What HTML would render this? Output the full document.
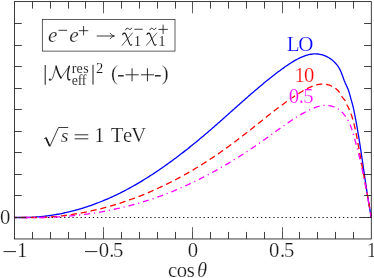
<!DOCTYPE html>
<html><head><meta charset="utf-8"><title>plot</title>
<style>html,body{margin:0;padding:0;background:#fff;overflow:hidden}body{width:374px;height:278px;font-family:"Liberation Serif",serif}</style></head>
<body>
<svg width="374" height="278" viewBox="0 0 374 278" font-family="'Liberation Serif', serif" style="display:block;will-change:transform">
<rect width="374" height="278" fill="#ffffff"/>
<line x1="14.55" y1="217.50" x2="371.30" y2="217.50" stroke="#1a1a1a" stroke-width="1.15" stroke-dasharray="1.3 2.8" stroke-dashoffset="3.7"/>
<path d="M14.55,217.50 L15.82,217.50 L17.09,217.50 L18.35,217.50 L19.62,217.50 L20.89,217.50 L22.16,217.50 L23.42,217.50 L24.69,217.50 L25.96,217.50 L27.23,217.49 L28.49,217.45 L29.76,217.40 L31.03,217.34 L32.30,217.27 L33.56,217.20 L34.83,217.11 L36.10,217.02 L37.37,216.92 L38.63,216.81 L39.90,216.70 L41.17,216.58 L42.44,216.45 L43.70,216.31 L44.97,216.16 L46.24,216.01 L47.51,215.84 L48.77,215.67 L50.04,215.49 L51.31,215.31 L52.58,215.11 L53.84,214.91 L55.11,214.70 L56.38,214.48 L57.65,214.26 L58.91,214.02 L60.18,213.78 L61.45,213.53 L62.72,213.27 L63.98,213.00 L65.25,212.73 L66.52,212.45 L67.79,212.16 L69.05,211.86 L70.32,211.55 L71.59,211.24 L72.86,210.91 L74.12,210.58 L75.39,210.24 L76.66,209.89 L77.93,209.54 L79.19,209.18 L80.46,208.80 L81.73,208.42 L83.00,208.04 L84.26,207.64 L85.53,207.24 L86.80,206.82 L88.07,206.40 L89.33,205.98 L90.60,205.54 L91.87,205.09 L93.14,204.64 L94.40,204.18 L95.67,203.71 L96.94,203.23 L98.21,202.75 L99.47,202.25 L100.74,201.75 L102.01,201.24 L103.28,200.72 L104.54,200.19 L105.81,199.66 L107.08,199.12 L108.35,198.56 L109.62,198.00 L110.88,197.44 L112.15,196.86 L113.42,196.28 L114.69,195.68 L115.95,195.08 L117.22,194.47 L118.49,193.85 L119.76,193.23 L121.02,192.59 L122.29,191.95 L123.56,191.30 L124.83,190.64 L126.09,189.97 L127.36,189.30 L128.63,188.62 L129.90,187.92 L131.16,187.23 L132.43,186.52 L133.70,185.80 L134.97,185.08 L136.23,184.35 L137.50,183.61 L138.77,182.87 L140.04,182.11 L141.30,181.35 L142.57,180.58 L143.84,179.81 L145.11,179.03 L146.37,178.24 L147.64,177.44 L148.91,176.63 L150.18,175.82 L151.44,175.00 L152.71,174.18 L153.98,173.34 L155.25,172.50 L156.51,171.66 L157.78,170.80 L159.05,169.94 L160.32,169.08 L161.58,168.20 L162.85,167.32 L164.12,166.43 L165.39,165.54 L166.65,164.64 L167.92,163.73 L169.19,162.82 L170.46,161.90 L171.72,160.97 L172.99,160.04 L174.26,159.10 L175.53,158.16 L176.79,157.21 L178.06,156.25 L179.33,155.29 L180.60,154.32 L181.86,153.35 L182.50,152.86 L183.13,152.37 L183.77,151.87 L184.40,151.38 L185.03,150.88 L185.67,150.39 L186.30,149.89 L186.93,149.39 L187.57,148.89 L188.20,148.39 L188.84,147.88 L189.47,147.38 L190.10,146.87 L190.74,146.36 L191.37,145.85 L192.00,145.34 L192.64,144.83 L193.27,144.32 L193.91,143.80 L194.54,143.29 L195.17,142.77 L195.81,142.25 L196.44,141.73 L197.08,141.21 L197.71,140.69 L198.34,140.16 L198.98,139.64 L199.61,139.11 L200.24,138.58 L200.88,138.05 L201.51,137.52 L202.15,136.99 L202.78,136.46 L203.41,135.93 L204.05,135.39 L204.68,134.85 L205.31,134.31 L205.95,133.78 L206.58,133.24 L207.22,132.69 L207.85,132.15 L208.48,131.61 L209.12,131.06 L209.75,130.52 L210.38,129.97 L211.02,129.42 L211.65,128.87 L212.29,128.32 L212.92,127.77 L213.55,127.21 L214.19,126.66 L214.82,126.11 L215.45,125.55 L216.09,124.99 L216.72,124.44 L217.36,123.88 L217.99,123.32 L218.62,122.76 L219.26,122.20 L219.89,121.64 L220.52,121.08 L221.16,120.52 L221.79,119.96 L222.43,119.40 L223.06,118.83 L223.69,118.27 L224.33,117.71 L224.96,117.14 L225.59,116.58 L226.23,116.01 L226.86,115.45 L227.50,114.88 L228.13,114.32 L228.76,113.75 L229.40,113.18 L230.03,112.62 L230.66,112.05 L231.30,111.49 L231.93,110.92 L232.57,110.36 L233.20,109.79 L233.83,109.22 L234.47,108.66 L235.10,108.09 L235.73,107.53 L236.37,106.96 L237.00,106.40 L237.64,105.83 L238.27,105.27 L238.90,104.71 L239.54,104.14 L240.17,103.58 L240.81,103.02 L241.44,102.45 L242.07,101.89 L242.71,101.33 L243.34,100.77 L243.97,100.21 L244.61,99.65 L245.24,99.10 L245.88,98.54 L246.51,97.98 L247.14,97.43 L247.78,96.87 L248.41,96.32 L249.04,95.76 L249.68,95.21 L250.31,94.66 L250.95,94.11 L251.58,93.56 L252.21,93.01 L252.85,92.46 L253.48,91.92 L254.11,91.37 L254.75,90.83 L255.38,90.29 L256.02,89.74 L256.65,89.20 L257.28,88.67 L257.92,88.13 L258.55,87.59 L259.18,87.06 L259.82,86.53 L260.45,85.99 L261.09,85.46 L261.72,84.94 L262.35,84.41 L262.99,83.88 L263.62,83.36 L264.25,82.84 L264.89,82.32 L265.52,81.80 L266.16,81.28 L266.79,80.77 L267.42,80.26 L268.06,79.74 L268.69,79.24 L269.32,78.73 L269.96,78.22 L270.59,77.72 L271.23,77.22 L271.86,76.72 L272.49,76.22 L273.13,75.73 L273.76,75.24 L274.39,74.75 L275.66,73.77 L276.93,72.81 L278.20,71.85 L279.46,70.91 L280.73,69.97 L282.00,69.05 L283.27,68.13 L284.53,67.23 L285.80,66.34 L287.07,65.46 L288.34,64.61 L289.61,63.76 L290.87,62.94 L292.14,62.15 L293.41,61.37 L294.68,60.63 L295.94,59.91 L297.21,59.22 L298.48,58.57 L299.75,57.94 L301.01,57.36 L302.28,56.81 L303.55,56.31 L304.82,55.85 L306.08,55.43 L307.35,55.06 L308.62,54.73 L309.89,54.46 L311.15,54.24 L312.42,54.07 L313.69,53.96 L314.96,53.91 L316.22,53.92 L317.49,53.99 L318.76,54.13 L320.03,54.33 L321.29,54.60 L322.56,54.94 L323.83,55.36 L325.10,55.84 L326.36,56.41 L327.63,57.05 L328.90,57.77 L330.17,58.58 L331.50,59.54 L332.16,60.07 L332.80,60.60 L333.41,61.13 L334.54,62.19 L335.57,63.25 L336.50,64.31 L337.34,65.37 L338.10,66.43 L338.79,67.49 L339.41,68.55 L339.97,69.61 L340.47,70.67 L340.93,71.74 L341.36,72.80 L341.78,73.86 L342.18,74.92 L342.57,75.98 L342.95,77.04 L343.33,78.10 L343.72,79.16 L344.11,80.22 L344.53,81.28 L344.97,82.34 L345.44,83.40 L345.93,84.46 L346.43,85.52 L346.92,86.58 L347.40,87.64 L347.85,88.70 L348.26,89.76 L348.64,90.82 L348.99,91.88 L349.32,92.94 L349.62,94.00 L349.91,95.06 L350.20,96.12 L350.47,97.18 L350.75,98.24 L351.04,99.30 L351.34,100.36 L351.64,101.42 L351.95,102.48 L352.26,103.54 L352.55,104.60 L352.83,105.66 L353.09,106.72 L353.34,107.78 L353.57,108.84 L353.80,109.90 L354.01,110.96 L354.23,112.02 L354.44,113.08 L354.65,114.14 L354.86,115.20 L355.07,116.26 L355.27,117.32 L355.47,118.38 L355.67,119.44 L355.87,120.50 L356.07,121.56 L356.26,122.62 L356.45,123.68 L356.65,124.74 L356.83,125.80 L357.02,126.86 L357.21,127.92 L357.39,128.98 L357.58,130.04 L357.76,131.10 L357.94,132.16 L358.11,133.22 L358.29,134.28 L358.47,135.34 L358.64,136.40 L358.81,137.46 L358.99,138.52 L359.16,139.58 L359.33,140.64 L359.49,141.70 L359.66,142.76 L359.83,143.82 L359.99,144.88 L360.16,145.94 L360.32,147.00 L360.48,148.06 L360.64,149.12 L360.81,150.18 L360.97,151.24 L361.12,152.30 L361.28,153.36 L361.44,154.42 L361.60,155.48 L361.76,156.54 L361.91,157.60 L362.07,158.66 L362.23,159.72 L362.38,160.78 L362.54,161.84 L362.69,162.90 L362.85,163.96 L363.00,165.02 L363.16,166.08 L363.31,167.14 L363.46,168.20 L363.62,169.27 L363.77,170.33 L363.93,171.39 L364.08,172.45 L364.23,173.51 L364.39,174.57 L364.54,175.63 L364.70,176.69 L364.86,177.75 L365.01,178.81 L365.17,179.87 L365.32,180.93 L365.48,181.99 L365.64,183.05 L365.80,184.11 L365.96,185.17 L366.11,186.23 L366.27,187.29 L366.44,188.35 L366.60,189.41 L366.76,190.47 L366.92,191.53 L367.09,192.59 L367.25,193.65 L367.42,194.71 L367.58,195.77 L367.75,196.83 L367.92,197.89 L368.09,198.95 L368.26,200.01 L368.44,201.07 L368.61,202.13 L368.79,203.19 L368.96,204.25 L369.14,205.31 L369.32,206.37 L369.50,207.43 L369.68,208.49 L369.87,209.55 L370.05,210.61 L370.24,211.67 L370.43,212.73 L370.62,213.79 L370.81,214.85 L371.01,215.91 L371.20,216.97 L371.30,217.50" fill="none" stroke="#0000ff" stroke-width="1.3"/>
<path d="M14.55,217.50 L15.84,217.50 L17.13,217.50 L18.42,217.50 L19.71,217.50 L21.00,217.50 L22.30,217.50 L23.59,217.50 L24.88,217.50 L26.17,217.50 L27.46,217.50 L28.75,217.50 L30.04,217.50 L31.33,217.50 L32.62,217.50 L33.91,217.50 L35.21,217.50 L36.50,217.50 L37.79,217.50 L39.08,217.50 L40.37,217.50 L41.66,217.48 L42.95,217.41 L44.24,217.34 L45.53,217.27 L46.82,217.19 L48.12,217.10 L49.41,217.01 L50.70,216.91 L51.99,216.81 L53.28,216.70 L54.57,216.59 L55.86,216.47 L57.15,216.34 L58.44,216.21 L59.73,216.07 L61.03,215.93 L62.32,215.78 L63.61,215.62 L64.90,215.46 L66.19,215.30 L67.48,215.12 L68.77,214.94 L70.06,214.76 L71.35,214.57 L72.64,214.38 L73.94,214.17 L75.23,213.97 L76.52,213.75 L77.81,213.54 L79.10,213.31 L80.39,213.08 L81.68,212.84 L82.97,212.60 L84.26,212.35 L85.55,212.10 L86.84,211.84 L88.14,211.57 L89.43,211.30 L90.72,211.03 L92.01,210.74 L93.30,210.45 L94.59,210.16 L95.88,209.86 L97.17,209.55 L98.46,209.24 L99.75,208.92 L101.05,208.59 L102.34,208.26 L103.63,207.93 L104.92,207.59 L106.21,207.24 L107.50,206.88 L108.79,206.52 L110.08,206.16 L111.37,205.78 L112.66,205.41 L113.96,205.02 L115.25,204.63 L116.54,204.24 L117.83,203.83 L119.12,203.43 L120.41,203.01 L121.70,202.59 L122.99,202.17 L124.28,201.73 L125.57,201.30 L126.87,200.85 L128.16,200.40 L129.45,199.94 L130.74,199.48 L132.03,199.01 L133.32,198.54 L134.61,198.06 L135.90,197.57 L137.19,197.08 L138.48,196.58 L139.78,196.08 L141.07,195.57 L142.36,195.05 L143.65,194.53 L144.94,194.00 L146.23,193.46 L147.52,192.92 L148.81,192.37 L150.10,191.82 L151.39,191.26 L152.69,190.70 L153.98,190.12 L155.27,189.55 L156.56,188.96 L157.85,188.37 L159.14,187.77 L160.43,187.17 L161.72,186.56 L163.01,185.95 L164.30,185.33 L165.59,184.70 L166.89,184.07 L168.18,183.43 L169.47,182.78 L170.76,182.13 L172.05,181.47 L173.34,180.81 L174.63,180.14 L175.92,179.46 L177.21,178.77 L178.50,178.09 L179.80,177.39 L181.09,176.69 L182.38,175.98 L183.67,175.27 L184.96,174.54 L186.25,173.82 L187.54,173.08 L188.83,172.34 L190.12,171.60 L191.41,170.85 L192.71,170.09 L194.00,169.32 L195.29,168.55 L196.58,167.78 L197.87,166.99 L199.16,166.20 L200.45,165.41 L201.74,164.60 L203.03,163.79 L204.32,162.98 L205.62,162.16 L206.91,161.33 L208.20,160.50 L209.49,159.66 L210.78,158.81 L212.07,157.95 L213.36,157.09 L214.65,156.23 L215.94,155.36 L217.23,154.48 L218.53,153.59 L219.82,152.70 L221.11,151.80 L222.40,150.90 L223.69,149.99 L224.98,149.07 L226.27,148.15 L227.56,147.22 L228.85,146.28 L230.14,145.34 L230.79,144.86 L231.43,144.39 L232.08,143.91 L232.73,143.43 L233.37,142.95 L234.02,142.47 L234.66,141.98 L235.31,141.50 L235.95,141.01 L236.60,140.52 L237.24,140.03 L237.89,139.54 L238.54,139.05 L239.18,138.55 L239.83,138.06 L240.47,137.56 L241.12,137.06 L241.76,136.56 L242.41,136.06 L243.05,135.55 L243.70,135.05 L244.34,134.55 L244.99,134.04 L245.64,133.53 L246.28,133.02 L246.93,132.51 L247.57,132.01 L248.22,131.49 L248.86,130.98 L249.51,130.47 L250.15,129.96 L250.80,129.44 L251.45,128.93 L252.09,128.42 L252.74,127.90 L253.38,127.39 L254.03,126.87 L254.67,126.36 L255.32,125.84 L255.96,125.32 L256.61,124.81 L257.25,124.29 L257.90,123.78 L258.55,123.26 L259.19,122.74 L259.84,122.23 L260.48,121.71 L261.13,121.20 L261.77,120.68 L262.42,120.17 L263.06,119.65 L263.71,119.14 L264.36,118.63 L265.00,118.11 L265.65,117.60 L266.29,117.09 L266.94,116.58 L267.58,116.07 L268.23,115.56 L268.87,115.06 L269.52,114.55 L270.16,114.04 L270.81,113.54 L271.46,113.03 L272.10,112.53 L272.75,112.03 L273.39,111.53 L274.04,111.03 L274.68,110.53 L275.33,110.04 L275.97,109.54 L276.62,109.05 L277.26,108.56 L277.91,108.07 L278.56,107.58 L279.20,107.10 L279.85,106.61 L280.49,106.13 L281.14,105.65 L281.78,105.17 L282.43,104.69 L283.07,104.22 L284.37,103.28 L285.66,102.34 L286.95,101.42 L288.24,100.51 L289.53,99.60 L290.82,98.71 L292.11,97.83 L293.40,96.95 L294.69,96.10 L295.98,95.25 L297.28,94.41 L298.57,93.59 L299.86,92.79 L301.15,91.99 L302.44,91.22 L303.73,90.46 L305.02,89.73 L306.31,89.03 L307.60,88.36 L308.89,87.72 L310.18,87.13 L311.48,86.57 L312.77,86.06 L314.06,85.60 L315.35,85.19 L316.64,84.84 L317.93,84.55 L319.22,84.33 L320.51,84.17 L321.80,84.08 L323.09,84.06 L324.39,84.13 L325.68,84.27 L326.97,84.50 L328.26,84.82 L329.55,85.23 L330.84,85.74 L332.13,86.34 L333.42,87.05 L334.71,87.87 L336.00,88.79 L336.65,89.30 L337.60,90.16 L338.38,91.01 L339.04,91.87 L339.63,92.73 L340.17,93.59 L340.69,94.44 L341.19,95.30 L341.72,96.16 L342.28,97.02 L342.91,97.87 L343.60,98.73 L344.31,99.59 L344.95,100.45 L345.47,101.30 L345.89,102.16 L346.26,103.02 L346.60,103.88 L346.95,104.73 L347.36,105.59 L347.82,106.45 L348.28,107.31 L348.70,108.16 L349.10,109.02 L349.48,109.88 L349.84,110.74 L350.18,111.59 L350.51,112.45 L350.83,113.31 L351.14,114.17 L351.43,115.02 L351.72,115.88 L352.00,116.74 L352.27,117.60 L352.53,118.45 L352.78,119.31 L353.02,120.17 L353.26,121.03 L353.49,121.88 L353.71,122.74 L353.93,123.60 L354.15,124.46 L354.36,125.31 L354.56,126.17 L354.76,127.03 L354.96,127.89 L355.15,128.74 L355.33,129.60 L355.52,130.46 L355.70,131.32 L355.87,132.18 L356.05,133.03 L356.22,133.89 L356.39,134.75 L356.55,135.61 L356.71,136.46 L356.88,137.32 L357.04,138.18 L357.19,139.04 L357.35,139.89 L357.51,140.75 L357.66,141.61 L357.82,142.47 L357.97,143.32 L358.12,144.18 L358.28,145.04 L358.43,145.90 L358.59,146.75 L358.74,147.61 L358.90,148.47 L359.05,149.33 L359.21,150.18 L359.36,151.04 L359.52,151.90 L359.67,152.76 L359.83,153.61 L359.98,154.47 L360.14,155.33 L360.30,156.19 L360.45,157.04 L360.61,157.90 L360.77,158.76 L360.92,159.62 L361.08,160.47 L361.23,161.33 L361.39,162.19 L361.55,163.05 L361.70,163.90 L361.86,164.76 L362.02,165.62 L362.18,166.48 L362.33,167.33 L362.49,168.19 L362.65,169.05 L362.80,169.91 L362.96,170.76 L363.12,171.62 L363.27,172.48 L363.43,173.34 L363.59,174.19 L363.74,175.05 L363.90,175.91 L364.06,176.77 L364.21,177.62 L364.37,178.48 L364.53,179.34 L364.68,180.20 L364.84,181.05 L364.99,181.91 L365.15,182.77 L365.31,183.63 L365.46,184.48 L365.62,185.34 L365.77,186.20 L365.93,187.06 L366.08,187.91 L366.24,188.77 L366.39,189.63 L366.55,190.49 L366.70,191.35 L366.86,192.20 L367.01,193.06 L367.17,193.92 L367.32,194.78 L367.47,195.63 L367.63,196.49 L367.78,197.35 L367.93,198.21 L368.09,199.06 L368.24,199.92 L368.39,200.78 L368.54,201.64 L368.69,202.49 L368.85,203.35 L369.00,204.21 L369.15,205.07 L369.30,205.92 L369.45,206.78 L369.60,207.64 L369.75,208.50 L369.90,209.35 L370.05,210.21 L370.20,211.07 L370.34,211.93 L370.49,212.78 L370.64,213.64 L370.79,214.50 L370.93,215.36 L371.08,216.21 L371.23,217.07 L371.30,217.50" fill="none" stroke="#ff0000" stroke-width="1.3" stroke-dasharray="6.2 3.84" stroke-dashoffset="3.86"/>
<path d="M14.55,217.50 L15.85,217.50 L17.15,217.50 L18.44,217.50 L19.74,217.50 L21.04,217.50 L22.34,217.50 L23.63,217.50 L24.93,217.50 L26.23,217.50 L27.53,217.50 L28.82,217.50 L30.12,217.50 L31.42,217.50 L32.72,217.50 L34.01,217.50 L35.31,217.50 L36.61,217.50 L37.91,217.50 L39.20,217.50 L40.50,217.50 L41.80,217.50 L43.10,217.50 L44.39,217.50 L45.69,217.50 L46.99,217.45 L48.29,217.40 L49.59,217.35 L50.88,217.29 L52.18,217.23 L53.48,217.17 L54.78,217.10 L56.07,217.02 L57.37,216.95 L58.67,216.87 L59.97,216.78 L61.26,216.69 L62.56,216.60 L63.86,216.50 L65.16,216.40 L66.45,216.30 L67.75,216.19 L69.05,216.07 L70.35,215.95 L71.64,215.83 L72.94,215.70 L74.24,215.57 L75.54,215.44 L76.83,215.30 L78.13,215.15 L79.43,215.01 L80.73,214.85 L82.02,214.70 L83.32,214.53 L84.62,214.37 L85.92,214.20 L87.22,214.02 L88.51,213.84 L89.81,213.66 L91.11,213.47 L92.41,213.28 L93.70,213.08 L95.00,212.87 L96.30,212.67 L97.60,212.45 L98.89,212.24 L100.19,212.02 L101.49,211.79 L102.79,211.56 L104.08,211.32 L105.38,211.08 L106.68,210.83 L107.98,210.58 L109.27,210.33 L110.57,210.07 L111.87,209.80 L113.17,209.53 L114.46,209.25 L115.76,208.97 L117.06,208.69 L118.36,208.40 L119.66,208.10 L120.95,207.80 L122.25,207.49 L123.55,207.18 L124.85,206.87 L126.14,206.54 L127.44,206.22 L128.74,205.88 L130.04,205.55 L131.33,205.20 L132.63,204.85 L133.93,204.50 L135.23,204.14 L136.52,203.78 L137.82,203.41 L139.12,203.03 L140.42,202.65 L141.71,202.26 L143.01,201.87 L144.31,201.47 L145.61,201.07 L146.90,200.66 L148.20,200.25 L149.50,199.83 L150.80,199.40 L152.10,198.97 L153.39,198.53 L154.69,198.09 L155.99,197.64 L157.29,197.19 L158.58,196.73 L159.88,196.26 L161.18,195.79 L162.48,195.31 L163.77,194.83 L165.07,194.34 L166.37,193.84 L167.67,193.34 L168.96,192.84 L170.26,192.32 L171.56,191.80 L172.86,191.28 L174.15,190.75 L175.45,190.21 L176.75,189.66 L178.05,189.11 L179.34,188.56 L180.64,188.00 L181.94,187.43 L183.24,186.85 L184.53,186.27 L185.83,185.69 L187.13,185.10 L188.43,184.50 L189.73,183.89 L191.02,183.28 L192.32,182.67 L193.62,182.05 L194.92,181.42 L196.21,180.78 L197.51,180.14 L198.81,179.50 L200.11,178.85 L201.40,178.19 L202.70,177.53 L204.00,176.86 L205.30,176.18 L206.59,175.50 L207.89,174.82 L209.19,174.13 L210.49,173.43 L211.78,172.73 L213.08,172.02 L214.38,171.30 L215.68,170.58 L216.97,169.86 L218.27,169.13 L219.57,168.39 L220.87,167.65 L222.17,166.90 L223.46,166.15 L224.76,165.39 L226.06,164.62 L227.36,163.85 L228.65,163.08 L229.95,162.30 L231.25,161.51 L232.55,160.72 L233.84,159.92 L235.14,159.12 L236.44,158.31 L237.74,157.50 L239.03,156.68 L240.33,155.86 L241.63,155.03 L242.93,154.19 L244.22,153.35 L245.52,152.51 L246.82,151.66 L248.12,150.80 L249.41,149.94 L250.71,149.08 L252.01,148.20 L253.31,147.33 L254.61,146.45 L255.90,145.56 L257.20,144.67 L258.50,143.77 L259.80,142.87 L261.09,141.96 L262.39,141.05 L263.69,140.13 L264.99,139.21 L266.28,138.29 L267.58,137.35 L268.88,136.42 L270.18,135.49 L270.83,135.02 L271.47,134.55 L272.12,134.08 L272.77,133.61 L273.42,133.14 L274.07,132.67 L274.72,132.20 L275.37,131.73 L276.02,131.26 L277.31,130.33 L278.61,129.40 L279.91,128.47 L281.21,127.54 L282.50,126.62 L283.80,125.71 L285.10,124.80 L286.40,123.90 L287.69,123.00 L288.99,122.12 L290.29,121.24 L291.59,120.38 L292.88,119.52 L294.18,118.68 L295.48,117.85 L296.78,117.03 L298.07,116.23 L299.37,115.44 L300.67,114.67 L301.97,113.91 L303.26,113.17 L304.56,112.45 L305.86,111.75 L307.16,111.07 L308.46,110.40 L309.75,109.77 L311.05,109.16 L312.35,108.59 L313.65,108.06 L314.94,107.56 L316.24,107.10 L317.54,106.69 L318.84,106.33 L320.13,106.02 L321.43,105.77 L322.73,105.58 L324.03,105.45 L325.32,105.38 L326.62,105.38 L327.92,105.46 L329.22,105.61 L330.51,105.83 L331.81,106.14 L333.11,106.54 L334.41,107.02 L335.70,107.59 L337.00,108.26 L338.30,109.03 L339.31,109.76 L340.23,110.48 L341.06,111.21 L341.81,111.93 L342.50,112.66 L343.15,113.38 L343.76,114.11 L344.34,114.84 L344.89,115.56 L345.43,116.29 L345.93,117.01 L346.42,117.74 L346.89,118.46 L347.34,119.19 L347.76,119.91 L348.17,120.64 L348.57,121.37 L348.94,122.09 L349.30,122.82 L349.79,123.90 L350.25,124.99 L350.67,126.08 L351.07,127.17 L351.46,128.26 L351.82,129.35 L352.17,130.43 L352.51,131.52 L352.84,132.61 L353.16,133.70 L353.48,134.79 L353.80,135.88 L354.11,136.96 L354.42,138.05 L354.73,139.14 L355.03,140.23 L355.33,141.32 L355.63,142.41 L355.93,143.49 L356.22,144.58 L356.51,145.67 L356.79,146.76 L357.08,147.85 L357.36,148.94 L357.64,150.02 L357.91,151.11 L358.18,152.20 L358.45,153.29 L358.72,154.38 L358.99,155.47 L359.25,156.55 L359.51,157.64 L359.77,158.73 L360.02,159.82 L360.27,160.91 L360.52,162.00 L360.77,163.08 L361.02,164.17 L361.26,165.26 L361.50,166.35 L361.74,167.44 L361.98,168.53 L362.22,169.61 L362.45,170.70 L362.68,171.79 L362.91,172.88 L363.14,173.97 L363.37,175.06 L363.59,176.14 L363.82,177.23 L364.04,178.32 L364.26,179.41 L364.48,180.50 L364.69,181.59 L364.91,182.67 L365.12,183.76 L365.34,184.85 L365.55,185.94 L365.76,187.03 L365.97,188.12 L366.17,189.20 L366.38,190.29 L366.59,191.38 L366.79,192.47 L366.99,193.56 L367.20,194.65 L367.40,195.73 L367.60,196.82 L367.80,197.91 L368.00,199.00 L368.20,200.09 L368.39,201.18 L368.59,202.26 L368.79,203.35 L368.98,204.44 L369.18,205.53 L369.37,206.62 L369.57,207.71 L369.76,208.79 L369.95,209.88 L370.15,210.97 L370.34,212.06 L370.53,213.15 L370.72,214.24 L370.92,215.32 L371.11,216.41 L371.30,217.50" fill="none" stroke="#ff00ff" stroke-width="1.3" stroke-dasharray="6.2 3.83 1.2 3.835" stroke-dashoffset="5.7"/>
<rect x="14.55" y="1.60" width="356.75" height="237.35" fill="none" stroke="#1a1a1a" stroke-width="0.85"/>
<line x1="32.50" y1="238.95" x2="32.50" y2="231.95" stroke="#2a2a2a" stroke-width="0.9"/>
<line x1="32.50" y1="1.60" x2="32.50" y2="8.60" stroke="#2a2a2a" stroke-width="0.9"/>
<line x1="50.50" y1="238.95" x2="50.50" y2="231.95" stroke="#2a2a2a" stroke-width="0.9"/>
<line x1="50.50" y1="1.60" x2="50.50" y2="8.60" stroke="#2a2a2a" stroke-width="0.9"/>
<line x1="68.50" y1="238.95" x2="68.50" y2="231.95" stroke="#2a2a2a" stroke-width="0.9"/>
<line x1="68.50" y1="1.60" x2="68.50" y2="8.60" stroke="#2a2a2a" stroke-width="0.9"/>
<line x1="85.50" y1="238.95" x2="85.50" y2="231.95" stroke="#2a2a2a" stroke-width="0.9"/>
<line x1="85.50" y1="1.60" x2="85.50" y2="8.60" stroke="#2a2a2a" stroke-width="0.9"/>
<line x1="103.50" y1="238.95" x2="103.50" y2="231.95" stroke="#2a2a2a" stroke-width="0.9"/>
<line x1="103.50" y1="1.60" x2="103.50" y2="8.60" stroke="#2a2a2a" stroke-width="0.9"/>
<line x1="103.50" y1="238.95" x2="103.50" y2="227.15" stroke="#555" stroke-width="0.9"/>
<line x1="103.50" y1="1.60" x2="103.50" y2="13.40" stroke="#555" stroke-width="0.9"/>
<line x1="121.50" y1="238.95" x2="121.50" y2="231.95" stroke="#2a2a2a" stroke-width="0.9"/>
<line x1="121.50" y1="1.60" x2="121.50" y2="8.60" stroke="#2a2a2a" stroke-width="0.9"/>
<line x1="139.50" y1="238.95" x2="139.50" y2="231.95" stroke="#2a2a2a" stroke-width="0.9"/>
<line x1="139.50" y1="1.60" x2="139.50" y2="8.60" stroke="#2a2a2a" stroke-width="0.9"/>
<line x1="157.50" y1="238.95" x2="157.50" y2="231.95" stroke="#2a2a2a" stroke-width="0.9"/>
<line x1="157.50" y1="1.60" x2="157.50" y2="8.60" stroke="#2a2a2a" stroke-width="0.9"/>
<line x1="175.50" y1="238.95" x2="175.50" y2="231.95" stroke="#2a2a2a" stroke-width="0.9"/>
<line x1="175.50" y1="1.60" x2="175.50" y2="8.60" stroke="#2a2a2a" stroke-width="0.9"/>
<line x1="192.50" y1="238.95" x2="192.50" y2="231.95" stroke="#2a2a2a" stroke-width="0.9"/>
<line x1="192.50" y1="1.60" x2="192.50" y2="8.60" stroke="#2a2a2a" stroke-width="0.9"/>
<line x1="192.50" y1="238.95" x2="192.50" y2="227.15" stroke="#555" stroke-width="0.9"/>
<line x1="192.50" y1="1.60" x2="192.50" y2="13.40" stroke="#555" stroke-width="0.9"/>
<line x1="210.50" y1="238.95" x2="210.50" y2="231.95" stroke="#2a2a2a" stroke-width="0.9"/>
<line x1="210.50" y1="1.60" x2="210.50" y2="8.60" stroke="#2a2a2a" stroke-width="0.9"/>
<line x1="228.50" y1="238.95" x2="228.50" y2="231.95" stroke="#2a2a2a" stroke-width="0.9"/>
<line x1="228.50" y1="1.60" x2="228.50" y2="8.60" stroke="#2a2a2a" stroke-width="0.9"/>
<line x1="246.50" y1="238.95" x2="246.50" y2="231.95" stroke="#2a2a2a" stroke-width="0.9"/>
<line x1="246.50" y1="1.60" x2="246.50" y2="8.60" stroke="#2a2a2a" stroke-width="0.9"/>
<line x1="264.50" y1="238.95" x2="264.50" y2="231.95" stroke="#2a2a2a" stroke-width="0.9"/>
<line x1="264.50" y1="1.60" x2="264.50" y2="8.60" stroke="#2a2a2a" stroke-width="0.9"/>
<line x1="282.50" y1="238.95" x2="282.50" y2="231.95" stroke="#2a2a2a" stroke-width="0.9"/>
<line x1="282.50" y1="1.60" x2="282.50" y2="8.60" stroke="#2a2a2a" stroke-width="0.9"/>
<line x1="282.50" y1="238.95" x2="282.50" y2="227.15" stroke="#555" stroke-width="0.9"/>
<line x1="282.50" y1="1.60" x2="282.50" y2="13.40" stroke="#555" stroke-width="0.9"/>
<line x1="299.50" y1="238.95" x2="299.50" y2="231.95" stroke="#2a2a2a" stroke-width="0.9"/>
<line x1="299.50" y1="1.60" x2="299.50" y2="8.60" stroke="#2a2a2a" stroke-width="0.9"/>
<line x1="317.50" y1="238.95" x2="317.50" y2="231.95" stroke="#2a2a2a" stroke-width="0.9"/>
<line x1="317.50" y1="1.60" x2="317.50" y2="8.60" stroke="#2a2a2a" stroke-width="0.9"/>
<line x1="335.50" y1="238.95" x2="335.50" y2="231.95" stroke="#2a2a2a" stroke-width="0.9"/>
<line x1="335.50" y1="1.60" x2="335.50" y2="8.60" stroke="#2a2a2a" stroke-width="0.9"/>
<line x1="353.50" y1="238.95" x2="353.50" y2="231.95" stroke="#2a2a2a" stroke-width="0.9"/>
<line x1="353.50" y1="1.60" x2="353.50" y2="8.60" stroke="#2a2a2a" stroke-width="0.9"/>
<line x1="14.55" y1="195.50" x2="21.75" y2="195.50" stroke="#2a2a2a" stroke-width="0.9"/>
<line x1="371.30" y1="195.50" x2="364.10" y2="195.50" stroke="#2a2a2a" stroke-width="0.9"/>
<line x1="14.55" y1="174.50" x2="21.75" y2="174.50" stroke="#2a2a2a" stroke-width="0.9"/>
<line x1="371.30" y1="174.50" x2="364.10" y2="174.50" stroke="#2a2a2a" stroke-width="0.9"/>
<line x1="14.55" y1="152.50" x2="21.75" y2="152.50" stroke="#2a2a2a" stroke-width="0.9"/>
<line x1="371.30" y1="152.50" x2="364.10" y2="152.50" stroke="#2a2a2a" stroke-width="0.9"/>
<line x1="14.55" y1="131.50" x2="21.75" y2="131.50" stroke="#2a2a2a" stroke-width="0.9"/>
<line x1="371.30" y1="131.50" x2="364.10" y2="131.50" stroke="#2a2a2a" stroke-width="0.9"/>
<line x1="14.55" y1="109.50" x2="21.75" y2="109.50" stroke="#2a2a2a" stroke-width="0.9"/>
<line x1="371.30" y1="109.50" x2="364.10" y2="109.50" stroke="#2a2a2a" stroke-width="0.9"/>
<line x1="14.55" y1="88.50" x2="21.75" y2="88.50" stroke="#2a2a2a" stroke-width="0.9"/>
<line x1="371.30" y1="88.50" x2="364.10" y2="88.50" stroke="#2a2a2a" stroke-width="0.9"/>
<line x1="14.55" y1="66.50" x2="21.75" y2="66.50" stroke="#2a2a2a" stroke-width="0.9"/>
<line x1="371.30" y1="66.50" x2="364.10" y2="66.50" stroke="#2a2a2a" stroke-width="0.9"/>
<line x1="14.55" y1="45.50" x2="21.75" y2="45.50" stroke="#2a2a2a" stroke-width="0.9"/>
<line x1="371.30" y1="45.50" x2="364.10" y2="45.50" stroke="#2a2a2a" stroke-width="0.9"/>
<line x1="14.55" y1="23.50" x2="21.75" y2="23.50" stroke="#2a2a2a" stroke-width="0.9"/>
<line x1="371.30" y1="23.50" x2="364.10" y2="23.50" stroke="#2a2a2a" stroke-width="0.9"/>
<line x1="14.55" y1="217.50" x2="26.35" y2="217.50" stroke="#2a2a2a" stroke-width="0.9"/>
<line x1="371.30" y1="217.50" x2="359.50" y2="217.50" stroke="#2a2a2a" stroke-width="0.9"/>
<text x="0.11" y="224.10" font-size="20.7" fill="#1a1a1a" stroke="#fff" stroke-width="0.22">0</text>
<line x1="3.50" y1="251.60" x2="16.00" y2="251.60" stroke="#1a1a1a" stroke-width="0.95"/>
<text x="17.08" y="257.40" font-size="20.7" fill="#1a1a1a" stroke="#fff" stroke-width="0.22">1</text>
<line x1="85.00" y1="251.60" x2="97.40" y2="251.60" stroke="#1a1a1a" stroke-width="0.95"/>
<text x="98.71" y="257.40" font-size="20.7" fill="#1a1a1a" stroke="#fff" stroke-width="0.22">0</text>
<text x="109.24" y="257.40" font-size="20.7" fill="#1a1a1a" stroke="#fff" stroke-width="0.22">.</text>
<text x="113.10" y="257.40" font-size="20.7" fill="#1a1a1a" stroke="#fff" stroke-width="0.22">5</text>
<text x="187.71" y="257.40" font-size="20.7" fill="#1a1a1a" stroke="#fff" stroke-width="0.22">0</text>
<text x="269.11" y="257.40" font-size="20.7" fill="#1a1a1a" stroke="#fff" stroke-width="0.22">0</text>
<text x="280.04" y="257.40" font-size="20.7" fill="#1a1a1a" stroke="#fff" stroke-width="0.22">.</text>
<text x="284.10" y="257.40" font-size="20.7" fill="#1a1a1a" stroke="#fff" stroke-width="0.22">5</text>
<text x="366.58" y="257.40" font-size="20.7" fill="#1a1a1a" stroke="#fff" stroke-width="0.22">1</text>
<text x="168.01" y="277.00" font-size="20.7" fill="#1a1a1a" stroke="#fff" stroke-width="0.22">c</text>
<text x="176.81" y="277.00" font-size="20.7" fill="#1a1a1a" stroke="#fff" stroke-width="0.22">o</text>
<text x="186.75" y="277.00" font-size="20.7" fill="#1a1a1a" stroke="#fff" stroke-width="0.22">s</text>
<text x="197.09" y="277.00" font-size="20.7" font-style="italic" fill="#1a1a1a" stroke="#fff" stroke-width="0.22">θ</text>
<text x="286.80" y="51.00" font-size="21.0" fill="#0000ff" stroke="#fff" stroke-width="0.22">L</text>
<text x="298.24" y="51.00" font-size="21.0" fill="#0000ff" stroke="#fff" stroke-width="0.22">O</text>
<text x="294.48" y="82.10" font-size="20.7" fill="#ff0000" stroke="#fff" stroke-width="0.22">1</text>
<text x="303.91" y="82.10" font-size="20.7" fill="#ff0000" stroke="#fff" stroke-width="0.22">0</text>
<text x="288.81" y="103.20" font-size="20.7" fill="#ff00ff" stroke="#fff" stroke-width="0.22">0</text>
<text x="298.64" y="103.20" font-size="20.7" fill="#ff00ff" stroke="#fff" stroke-width="0.22">.</text>
<text x="303.30" y="103.20" font-size="20.7" fill="#ff00ff" stroke="#fff" stroke-width="0.22">5</text>
<rect x="42.3" y="19.6" width="132.70" height="31.50" fill="none" stroke="#1a1a1a" stroke-width="0.7"/>
<text x="47.94" y="41.80" font-size="21.3" font-style="italic" fill="#1a1a1a" stroke="#fff" stroke-width="0.22">e</text>
<line x1="58.40" y1="30.30" x2="67.10" y2="30.30" stroke="#1a1a1a" stroke-width="0.85"/>
<text x="69.14" y="41.80" font-size="21.3" font-style="italic" fill="#1a1a1a" stroke="#fff" stroke-width="0.22">e</text>
<line x1="78.90" y1="30.70" x2="88.30" y2="30.70" stroke="#1a1a1a" stroke-width="0.85"/>
<line x1="83.60" y1="26.00" x2="83.60" y2="35.40" stroke="#1a1a1a" stroke-width="0.85"/>
<line x1="96.70" y1="36.00" x2="114.00" y2="36.00" stroke="#1a1a1a" stroke-width="0.85"/>
<path d="M110.0,32.9 C111.0,34.7 112.6,35.6 114.6,36.0 C112.6,36.4 111.0,37.3 110.0,39.1" fill="none" stroke="#1a1a1a" stroke-width="0.8"/>
<g transform="translate(0.00,0)" fill="none" stroke="#1a1a1a" stroke-linecap="round"><path d="M122.1,45.4 L132.4,33.0" stroke-width="0.7"/><path d="M122.7,34.6 C123.1,33.0 124.9,32.5 125.8,34.2 L129.6,43.9 C130.1,45.3 131.0,45.7 131.8,44.7" stroke-width="1.12" stroke-linejoin="round"/><path d="M125.6,29.8 C126.3,27.9 127.6,27.8 128.6,28.8 S130.8,29.9 131.7,28.1" stroke-width="0.9"/></g>
<text x="133.70" y="45.80" font-size="14.8" fill="#1a1a1a" stroke="#fff" stroke-width="0.08">1</text>
<line x1="134.30" y1="29.25" x2="142.80" y2="29.25" stroke="#1a1a1a" stroke-width="0.85"/>
<g transform="translate(24.30,0)" fill="none" stroke="#1a1a1a" stroke-linecap="round"><path d="M122.1,45.4 L132.4,33.0" stroke-width="0.7"/><path d="M122.7,34.6 C123.1,33.0 124.9,32.5 125.8,34.2 L129.6,43.9 C130.1,45.3 131.0,45.7 131.8,44.7" stroke-width="1.12" stroke-linejoin="round"/><path d="M125.6,29.8 C126.3,27.9 127.6,27.8 128.6,28.8 S130.8,29.9 131.7,28.1" stroke-width="0.9"/></g>
<text x="158.20" y="45.80" font-size="14.8" fill="#1a1a1a" stroke="#fff" stroke-width="0.08">1</text>
<line x1="158.40" y1="29.40" x2="167.80" y2="29.40" stroke="#1a1a1a" stroke-width="0.85"/>
<line x1="163.10" y1="24.70" x2="163.10" y2="34.10" stroke="#1a1a1a" stroke-width="0.85"/>
<line x1="45.20" y1="65.00" x2="45.20" y2="84.80" stroke="#1a1a1a" stroke-width="1.0"/>
<g fill="none" stroke="#1a1a1a" stroke-linecap="round" stroke-linejoin="round"><path d="M50.0,80.3 C51.3,80.7 52.3,79.3 53.0,77.0 L56.2,66.4" stroke-width="0.7"/><path d="M56.15,66.3 C57.2,70.6 59.0,75.2 61.0,78.0" stroke-width="1.5"/><path d="M61.0,78.0 L69.3,66.2" stroke-width="0.7"/><path d="M69.3,66.1 C68.2,70.0 67.4,75.0 67.9,78.3 C68.1,79.6 68.9,80.3 69.9,79.7" stroke-width="1.35"/></g>
<circle cx="49.8" cy="79.6" r="1.0" fill="#1a1a1a"/>
<text x="71.82" y="72.50" font-size="14.0" fill="#1a1a1a" stroke="#fff" stroke-width="0.08">r</text>
<text x="76.55" y="72.50" font-size="14.0" fill="#1a1a1a" stroke="#fff" stroke-width="0.08">e</text>
<text x="83.33" y="72.50" font-size="14.0" fill="#1a1a1a" stroke="#fff" stroke-width="0.08">s</text>
<text x="71.75" y="84.60" font-size="14.0" fill="#1a1a1a" stroke="#fff" stroke-width="0.08">e</text>
<text x="77.87" y="84.60" font-size="14.0" fill="#1a1a1a" stroke="#fff" stroke-width="0.08">f</text>
<text x="81.87" y="84.60" font-size="14.0" fill="#1a1a1a" stroke="#fff" stroke-width="0.08">f</text>
<line x1="93.00" y1="64.80" x2="93.00" y2="84.60" stroke="#1a1a1a" stroke-width="1.0"/>
<text x="96.06" y="72.80" font-size="14.5" fill="#1a1a1a" stroke="#fff" stroke-width="0.08">2</text>
<text x="110.99" y="80.20" font-size="20.7" fill="#1a1a1a" stroke="#fff" stroke-width="0.22">(</text>
<line x1="118.00" y1="75.80" x2="123.70" y2="75.80" stroke="#1a1a1a" stroke-width="1.4"/>
<line x1="125.50" y1="74.80" x2="138.60" y2="74.80" stroke="#1a1a1a" stroke-width="0.9"/>
<line x1="132.05" y1="68.25" x2="132.05" y2="81.35" stroke="#1a1a1a" stroke-width="0.9"/>
<line x1="140.90" y1="74.80" x2="154.00" y2="74.80" stroke="#1a1a1a" stroke-width="0.9"/>
<line x1="147.45" y1="68.25" x2="147.45" y2="81.35" stroke="#1a1a1a" stroke-width="0.9"/>
<line x1="154.90" y1="75.80" x2="160.70" y2="75.80" stroke="#1a1a1a" stroke-width="1.4"/>
<text x="161.73" y="80.20" font-size="20.7" fill="#1a1a1a" stroke="#fff" stroke-width="0.22">)</text>
<path d="M44.2,138.8 L46.2,137.5 L49.9,146.4 L58.5,127.5 L68.2,127.5" fill="none" stroke="#1a1a1a" stroke-width="0.85" stroke-linejoin="miter"/>
<path d="M45.9,137.9 L49.5,146.0" fill="none" stroke="#1a1a1a" stroke-width="1.5"/>
<text x="60.66" y="142.20" font-size="19.8" font-style="italic" fill="#1a1a1a" stroke="#fff" stroke-width="0.22">s</text>
<line x1="74.60" y1="134.80" x2="88.30" y2="134.80" stroke="#1a1a1a" stroke-width="0.9"/>
<line x1="74.60" y1="138.80" x2="88.30" y2="138.80" stroke="#1a1a1a" stroke-width="0.9"/>
<text x="94.28" y="142.00" font-size="20.7" fill="#1a1a1a" stroke="#fff" stroke-width="0.22">1</text>
<text x="110.63" y="142.00" font-size="20.7" fill="#1a1a1a" stroke="#fff" stroke-width="0.22">T</text>
<text x="122.89" y="142.00" font-size="20.7" fill="#1a1a1a" stroke="#fff" stroke-width="0.22">e</text>
<text x="131.27" y="142.00" font-size="20.7" fill="#1a1a1a" stroke="#fff" stroke-width="0.22">V</text>
</svg>
</body></html>
